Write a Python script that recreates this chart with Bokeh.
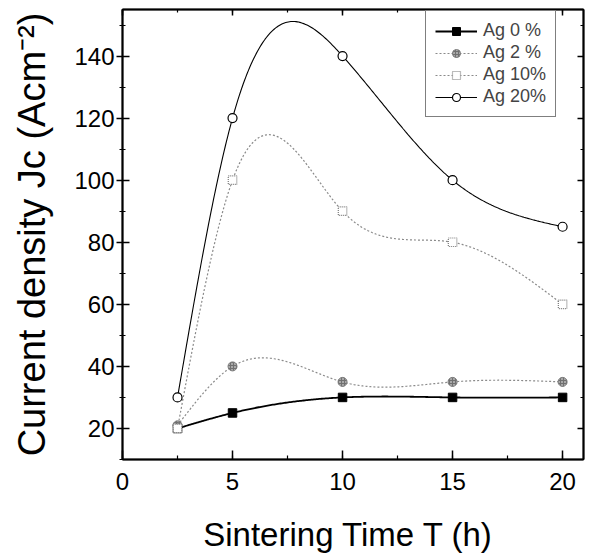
import numpy as np
from bokeh.plotting import figure
from bokeh.models import (Range1d, LinearAxis, SingleIntervalTicker, Legend, LegendItem,
                          CustomJSTickFormatter)
from bokeh.embed import file_html
from bokeh.resources import INLINE

# ---- data ----
time_h = [2.5, 5, 10, 15, 20]
ag0 = [20, 25, 30, 30, 30]
ag2 = [21, 40, 35, 35, 35]
ag10 = [20, 100, 90, 80, 60]
ag20 = [30, 120, 140, 100, 85]
series_labels = ["Ag 0 %", "Ag 2 %", "Ag 10%", "Ag 20%"]
x_title = "Sintering Time  T (h)"
y_title = "Current density Jc (Acm\u207b\u00b2)"


def natural_spline(x, y, n=300):
    """Smooth connecting line through the data points (natural cubic spline)."""
    x = np.asarray(x, float)
    y = np.asarray(y, float)
    k = len(x)
    h = np.diff(x)
    A = np.zeros((k, k))
    b = np.zeros(k)
    A[0, 0] = 1
    A[-1, -1] = 1
    for i in range(1, k - 1):
        A[i, i - 1] = h[i - 1]
        A[i, i] = 2 * (h[i - 1] + h[i])
        A[i, i + 1] = h[i]
        b[i] = 6 * ((y[i + 1] - y[i]) / h[i] - (y[i] - y[i - 1]) / h[i - 1])
    M = np.linalg.solve(A, b)
    xs = np.linspace(x[0], x[-1], n)
    idx = np.clip(np.searchsorted(x, xs) - 1, 0, k - 2)
    x0 = x[idx]
    x1 = x[idx + 1]
    hh = x1 - x0
    t0 = x1 - xs
    t1 = xs - x0
    ys = (M[idx] * t0 ** 3 / (6 * hh) + M[idx + 1] * t1 ** 3 / (6 * hh)
          + (y[idx] / hh - M[idx] * hh / 6) * t0
          + (y[idx + 1] / hh - M[idx + 1] * hh / 6) * t1)
    return xs, ys


FONT = "Liberation Sans"

p = figure(width=586, height=560, output_backend="svg", toolbar_location=None,
           x_range=Range1d(0, 20.95), y_range=Range1d(10, 155),
           min_border_left=122, min_border_right=3, min_border_top=9,
           min_border_bottom=101)
p.xgrid.visible = False
p.ygrid.visible = False
p.outline_line_color = "black"
p.outline_line_width = 1.5
p.background_fill_color = "white"
p.border_fill_color = "white"

# bottom axis
xa = p.xaxis[0]
xa.ticker = SingleIntervalTicker(interval=5, num_minor_ticks=2)
xa.axis_label = x_title
xa.major_tick_in = 9
xa.major_tick_out = 0
xa.minor_tick_in = 4
xa.minor_tick_out = 0
xa.major_label_standoff = 13
xa.axis_label_standoff = 23

# left axis
ya = p.yaxis[0]
ya.ticker = SingleIntervalTicker(interval=20, num_minor_ticks=2)
ya.axis_label = y_title
ya.major_tick_in = 7
ya.major_tick_out = 6
ya.minor_tick_in = 3
ya.minor_tick_out = 3
ya.major_label_standoff = 2
ya.axis_label_standoff = 18

for ax in [xa, ya]:
    ax.axis_line_width = 2
    ax.axis_line_color = "black"
    ax.major_tick_line_width = 1.5
    ax.minor_tick_line_width = 1.2
    ax.major_label_text_font = FONT
    ax.major_label_text_font_size = "24px"
    ax.major_label_text_color = "black"
    ax.axis_label_text_font = FONT
    ax.axis_label_text_font_style = "normal"
    ax.axis_label_text_color = "black"
xa.axis_label_text_font_size = "33px"
ya.axis_label_text_font_size = "38px"

# mirrored axes (top / right), ticks only, no labels
blank = CustomJSTickFormatter(code="return ''")
top = LinearAxis(ticker=SingleIntervalTicker(interval=5, num_minor_ticks=2),
                 formatter=blank,
                 major_tick_in=6, major_tick_out=0, minor_tick_in=3, minor_tick_out=0,
                 major_label_standoff=0, major_label_text_font_size="1px",
                 axis_line_width=2, major_tick_line_width=1.5, minor_tick_line_width=1.2)
right = LinearAxis(ticker=SingleIntervalTicker(interval=20, num_minor_ticks=2),
                   formatter=blank,
                   major_tick_in=6, major_tick_out=0, minor_tick_in=3, minor_tick_out=0,
                   major_label_standoff=0, major_label_text_font_size="1px",
                   axis_line_width=2, major_tick_line_width=1.5, minor_tick_line_width=1.2)
p.add_layout(top, "above")
p.add_layout(right, "right")

# ---- series ----
items = []

xs, ys = natural_spline(time_h, ag0)
l0 = p.line(xs, ys, line_color="black", line_width=1.8)
m0 = p.scatter(time_h, ag0, marker="square", size=8.5, fill_color="black", line_color="black")
items.append(LegendItem(label=series_labels[0], renderers=[l0, m0]))

xs, ys = natural_spline(time_h, ag2)
l2 = p.line(xs, ys, line_color="#8a8a8a", line_width=1.2, line_dash="2 2")
m2 = p.scatter(time_h, ag2, marker="circle", size=9, fill_color="#a8a8a8",
               line_color="#7a7a7a", hatch_pattern="+", hatch_color="#707070",
               hatch_scale=3, hatch_weight=1)
items.append(LegendItem(label=series_labels[1], renderers=[l2, m2]))

xs, ys = natural_spline(time_h, ag10)
l10 = p.line(xs, ys, line_color="#8a8a8a", line_width=1.2, line_dash="2 2")
m10 = p.scatter(time_h, ag10, marker="square", size=8.5, fill_color="white",
                line_color="#7a7a7a", line_dash="1 1", line_width=1.2)
items.append(LegendItem(label=series_labels[2], renderers=[l10, m10]))

xs, ys = natural_spline(time_h, ag20)
l20 = p.line(xs, ys, line_color="black", line_width=1.1)
m20 = p.scatter(time_h, ag20, marker="circle", size=9, fill_color="white",
                line_color="black", line_width=1.2)
items.append(LegendItem(label=series_labels[3], renderers=[l20, m20]))

legend = Legend(items=items, location=(303, 342),
                label_text_font=FONT, label_text_font_size="18px",
                glyph_width=42, glyph_height=20, label_height=20,
                label_standoff=6, spacing=1, padding=9, margin=0,
                border_line_color="black", border_line_width=1.2,
                background_fill_color="white", background_fill_alpha=1)
p.add_layout(legend, "center")

open("out.html", "w").write(file_html(p, INLINE))
